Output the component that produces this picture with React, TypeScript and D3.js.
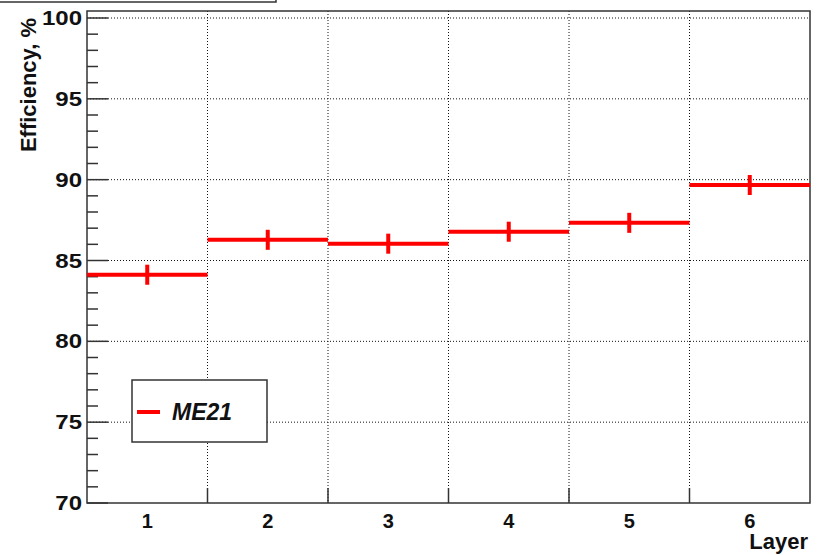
import { useEffect, useRef } from 'react';
import * as d3 from 'd3';

const layers = [1, 2, 3, 4, 5, 6];
const efficiency = [84.12, 86.28, 86.04, 86.78, 87.33, 89.67];
const errors = [0.62, 0.62, 0.62, 0.62, 0.62, 0.62];
const yTicks = [70, 75, 80, 85, 90, 95, 100];
const seriesName = 'ME21';

export default function App() {
  const ref = useRef<SVGSVGElement>(null);

  useEffect(() => {
    const svg = d3.select(ref.current);
    svg.selectAll('*').remove();

    const left = 87;
    const right = 810;
    const top = 11;
    const bottom = 503;
    const font = '"Liberation Sans", Arial, Helvetica, sans-serif';
    const frameColor = '#333';

    const x = d3.scaleLinear().domain([0.5, 6.5]).range([left, right]);
    const y = d3.scaleLinear().domain([70, 100]).range([bottom, 18]);

    // title box stub at top-left
    svg
      .append('rect')
      .attr('x', -2)
      .attr('y', -30)
      .attr('width', 278)
      .attr('height', 32)
      .attr('fill', 'white')
      .attr('stroke', frameColor)
      .attr('stroke-width', 1.5);

    // grid
    const grid = svg.append('g').attr('stroke', '#111').attr('stroke-width', 1).attr('stroke-dasharray', '1,2');
    grid
      .selectAll('line.h')
      .data(yTicks.slice(1))
      .enter()
      .append('line')
      .attr('x1', left)
      .attr('x2', right)
      .attr('y1', d => y(d))
      .attr('y2', d => y(d));
    grid
      .selectAll('line.v')
      .data(layers.slice(0, -1))
      .enter()
      .append('line')
      .attr('x1', d => x(d + 0.5))
      .attr('x2', d => x(d + 0.5))
      .attr('y1', top)
      .attr('y2', bottom);

    // y ticks
    const minor = d3.range(70, 100.01, 1);
    svg
      .append('g')
      .selectAll('line')
      .data(minor)
      .enter()
      .append('line')
      .attr('x1', left)
      .attr('x2', d => left + (d % 5 === 0 ? 21 : 11))
      .attr('y1', d => y(d))
      .attr('y2', d => y(d))
      .attr('stroke', frameColor)
      .attr('stroke-width', 1.5);

    // x ticks
    svg
      .append('g')
      .selectAll('line')
      .data(layers.slice(0, -1))
      .enter()
      .append('line')
      .attr('x1', d => x(d + 0.5))
      .attr('x2', d => x(d + 0.5))
      .attr('y1', bottom)
      .attr('y2', bottom - 15)
      .attr('stroke', frameColor)
      .attr('stroke-width', 1.5);

    // frame
    svg
      .append('rect')
      .attr('x', left)
      .attr('y', top)
      .attr('width', right - left)
      .attr('height', bottom - top)
      .attr('fill', 'none')
      .attr('stroke', frameColor)
      .attr('stroke-width', 1.5);

    // y tick labels
    svg
      .append('g')
      .selectAll('text')
      .data(yTicks)
      .enter()
      .append('text')
      .attr('transform', d => `translate(82, ${y(d) + 7}) scale(1.2, 1)`)
      .attr('text-anchor', 'end')
      .style('font-family', font)
      .style('font-weight', 'bold')
      .style('font-size', '20px')
      .attr('fill', '#111')
      .text(d => d);

    // x tick labels
    svg
      .append('g')
      .selectAll('text')
      .data(layers)
      .enter()
      .append('text')
      .attr('x', d => x(d))
      .attr('y', 528)
      .attr('text-anchor', 'middle')
      .style('font-family', font)
      .style('font-weight', 'bold')
      .style('font-size', '20px')
      .attr('fill', '#111')
      .text(d => d);

    // axis titles
    svg
      .append('text')
      .attr('transform', 'translate(36, 18) rotate(-90)')
      .attr('text-anchor', 'end')
      .style('font-family', font)
      .style('font-weight', 'bold')
      .style('font-size', '22px')
      .attr('fill', '#111')
      .text('Efficiency, %');
    svg
      .append('text')
      .attr('x', 808)
      .attr('y', 549)
      .attr('text-anchor', 'end')
      .style('font-family', font)
      .style('font-weight', 'bold')
      .style('font-size', '22px')
      .attr('fill', '#111')
      .text('Layer');

    // data
    const pts = layers.map((l, i) => ({ l, v: efficiency[i], e: errors[i] }));
    const marks = svg.append('g').attr('stroke', '#ff0000').attr('stroke-width', 4);
    marks
      .selectAll('line.h')
      .data(pts)
      .enter()
      .append('line')
      .attr('x1', d => x(d.l - 0.5))
      .attr('x2', d => x(d.l + 0.5))
      .attr('y1', d => y(d.v))
      .attr('y2', d => y(d.v));
    marks
      .selectAll('line.v')
      .data(pts)
      .enter()
      .append('line')
      .attr('x1', d => x(d.l))
      .attr('x2', d => x(d.l))
      .attr('y1', d => y(d.v - d.e))
      .attr('y2', d => y(d.v + d.e));

    // legend
    const legend = svg.append('g');
    legend
      .append('rect')
      .attr('x', 132)
      .attr('y', 380)
      .attr('width', 135)
      .attr('height', 62)
      .attr('fill', 'white')
      .attr('stroke', frameColor)
      .attr('stroke-width', 1.5);
    legend
      .append('line')
      .attr('x1', 137)
      .attr('x2', 160)
      .attr('y1', 412)
      .attr('y2', 412)
      .attr('stroke', '#ff0000')
      .attr('stroke-width', 4);
    legend
      .append('text')
      .attr('x', 172)
      .attr('y', 420)
      .style('font-family', font)
      .style('font-weight', 'bold')
      .style('font-style', 'italic')
      .style('font-size', '23px')
      .attr('fill', '#111')
      .text(seriesName);
  }, []);

  return (
    <svg
      ref={ref}
      width={817}
      height={555}
      style={{ position: 'absolute', left: 0, top: 0, background: 'white' }}
    />
  );
}
